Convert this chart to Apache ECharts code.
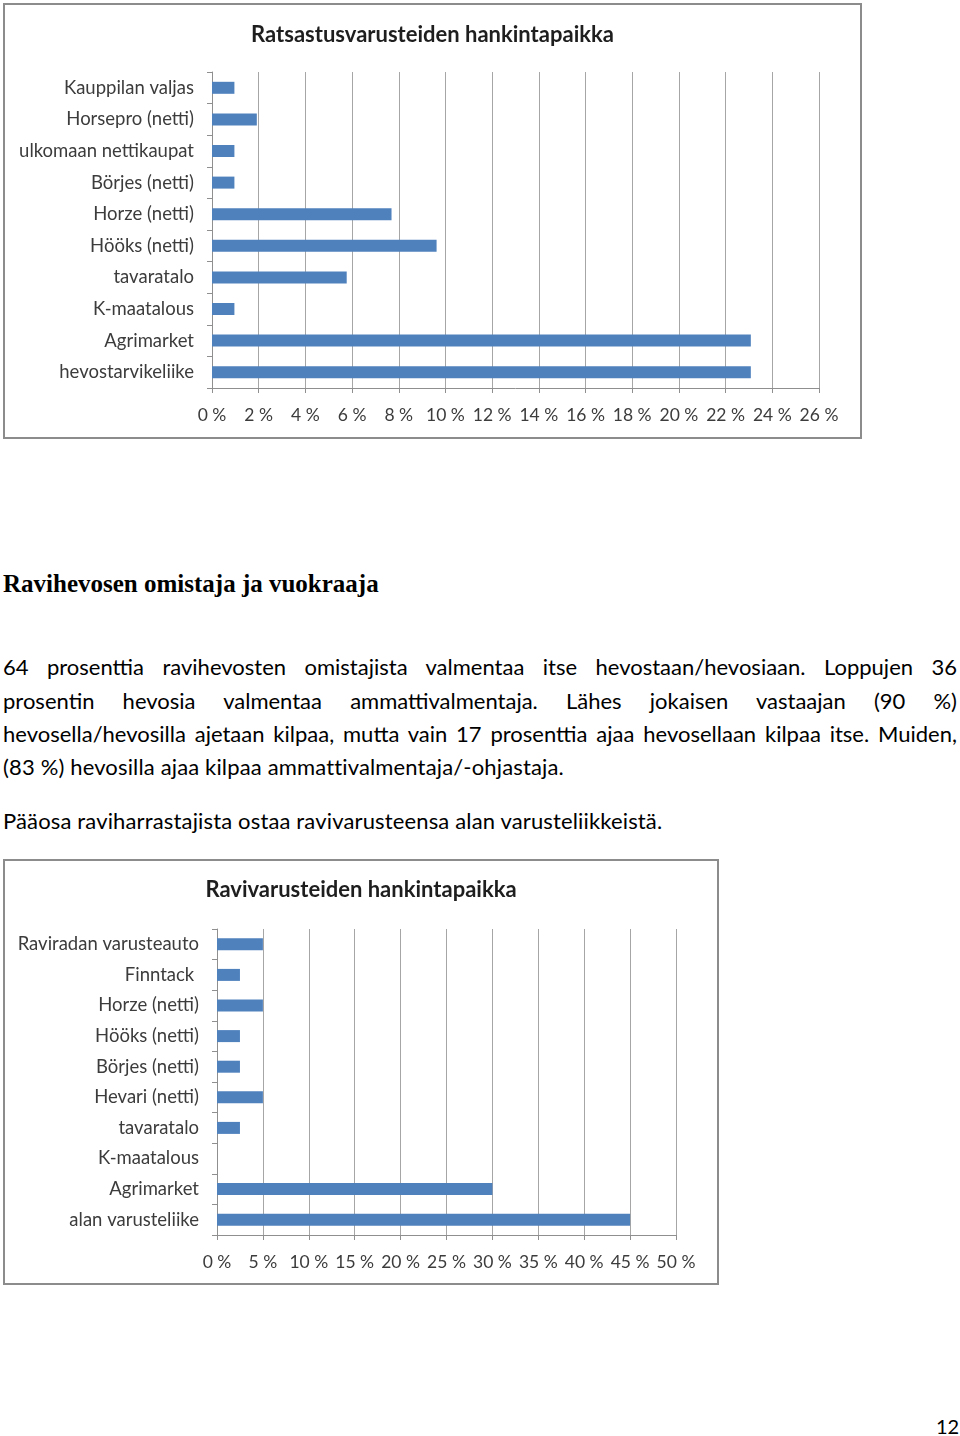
<!DOCTYPE html>
<html>
<head>
<meta charset="utf-8">
<script src="https://cdn.jsdelivr.net/npm/echarts@6/dist/echarts.min.js"></script>
<style>
  body { margin: 0; background: #fff; width: 960px; height: 1436px; position: relative; font-family: Lato, 'Open Sans', sans-serif; color: #000; }
  .frame { position: absolute; border: 2px solid #8c8c8c; box-sizing: border-box; }
  .frame .chart { width: 100%; height: 100%; }
  .heading { position: absolute; left: 3px; top: 569px; font-family: 'Liberation Serif', serif; font-weight: bold; font-size: 25px; line-height: 30px; }
  .line { position: absolute; left: 3px; width: 954px; font-size: 22px; letter-spacing: 0.15px; line-height: 34px; white-space: nowrap; }
  .just { text-align: justify; text-align-last: justify; white-space: normal; letter-spacing: 0; }
  .pagenum { position: absolute; left: 936px; top: 1413px; font-size: 20px; line-height: 26px; }
</style>
</head>
<body>
<div class="frame" style="left:3px; top:3px; width:859px; height:436px;"><div id="chart1" class="chart"></div></div>

<div class="heading">Ravihevosen omistaja ja vuokraaja</div>
<div class="line just" style="top:650px">64 prosenttia ravihevosten omistajista valmentaa itse hevostaan/hevosiaan. Loppujen 36</div>
<div class="line just" style="top:684px">prosentin hevosia valmentaa ammattivalmentaja. Lähes jokaisen vastaajan (90 %)</div>
<div class="line just" style="top:717px">hevosella/hevosilla ajetaan kilpaa, mutta vain 17 prosenttia ajaa hevosellaan kilpaa itse. Muiden,</div>
<div class="line" style="top:750px">(83 %) hevosilla ajaa kilpaa ammattivalmentaja/-ohjastaja.</div>
<div class="line" style="top:804px">Pääosa raviharrastajista ostaa ravivarusteensa alan varusteliikkeistä.</div>

<div class="frame" style="left:3px; top:859px; width:716px; height:426px;"><div id="chart2" class="chart"></div></div>

<div class="pagenum">12</div>

<script>
// Ratsastusvarusteiden hankintapaikka (%)
const ridingPlaces = ['Kauppilan valjas', 'Horsepro (netti)', 'ulkomaan nettikaupat', 'Börjes (netti)', 'Horze (netti)', 'Hööks (netti)', 'tavaratalo', 'K-maatalous', 'Agrimarket', 'hevostarvikeliike'];
const ridingShares = [0.96, 1.92, 0.96, 0.96, 7.69, 9.62, 5.77, 0.96, 23.08, 23.08];

// Ravivarusteiden hankintapaikka (%)
const trotPlaces = ['Raviradan varusteauto', 'Finntack ', 'Horze (netti)', 'Hööks (netti)', 'Börjes (netti)', 'Hevari (netti)', 'tavaratalo', 'K-maatalous', 'Agrimarket', 'alan varusteliike'];
const trotShares = [5, 2.5, 5, 2.5, 2.5, 5, 2.5, 0, 30, 45];

const font = 'Lato, "Open Sans", sans-serif';
const gray = '#8f8f8f';
const textColor = '#3c3c3c';

function barOption(title, cats, vals, max, step, grid, titleTop) {
  return {
    animation: false,
    title: {
      text: title, left: 'center', top: titleTop,
      textStyle: { fontFamily: font, fontSize: 22, fontWeight: 'bold', color: '#1e1e1e' }
    },
    grid: grid,
    xAxis: {
      type: 'value', min: 0, max: max, interval: step,
      axisLine: { show: true, lineStyle: { color: gray, width: 1 } },
      axisTick: { show: true, length: 5, lineStyle: { color: gray } },
      splitLine: { show: true, lineStyle: { color: '#a6a6a6', width: 1 } },
      axisLabel: { formatter: '{value} %', fontFamily: font, fontSize: 17.5, color: textColor, margin: 18 }
    },
    yAxis: {
      type: 'category', data: cats, inverse: true,
      axisLine: { show: true, lineStyle: { color: gray, width: 1 } },
      axisTick: { show: true, length: 5, lineStyle: { color: gray } },
      axisLabel: { fontFamily: font, fontSize: 18.5, color: textColor, margin: 18 }
    },
    series: [{
      type: 'bar', data: vals, barWidth: 12,
      itemStyle: { color: '#4f81bd' }
    }]
  };
}

const c1 = echarts.init(document.getElementById('chart1'));
c1.setOption(barOption('Ratsastusvarusteiden hankintapaikka', ridingPlaces, ridingShares, 26, 2,
  { left: 207, right: 41, top: 67, bottom: 49 }, 14));

const c2 = echarts.init(document.getElementById('chart2'));
c2.setOption(barOption('Ravivarusteiden hankintapaikka', trotPlaces, trotShares, 50, 5,
  { left: 212, right: 41, top: 68, bottom: 48 }, 13));
</script>
</body>
</html>
